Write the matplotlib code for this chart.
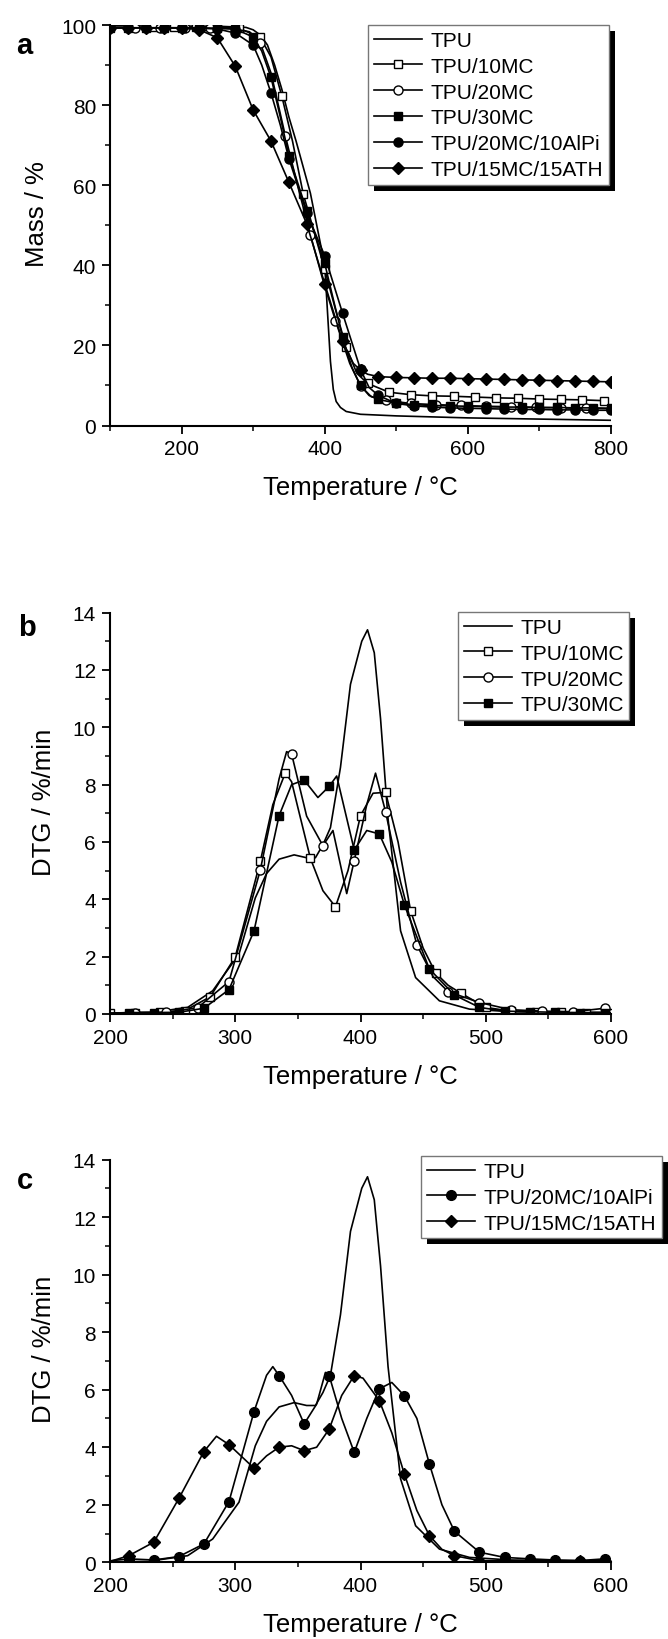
import numpy as np
import matplotlib
matplotlib.use('Agg')
import matplotlib.pyplot as plt
from matplotlib.ticker import MultipleLocator
from matplotlib.patches import Rectangle

plt.rcParams['font.family'] = ['Liberation Sans', 'DejaVu Sans']

# ---------------- panel a : TGA mass curves ----------------
# TPU (no markers)
tga_tpu_t = [100, 250, 290, 300, 310, 320, 330, 340, 350, 360, 370, 380, 390, 400, 404, 408,
             412, 416, 422, 430, 450, 500, 600, 700, 800]
tga_tpu_m = [99.8, 99.7, 99.4, 98.8, 97.5, 95.0, 90.0, 84.0, 77.0, 71.0, 64.5, 58.0, 49.0, 40.0,
             28.0, 16.0, 9.0, 6.0, 4.5, 3.5, 2.8, 2.4, 1.9, 1.6, 1.3]

# marker points
tga_10mc_t = [100, 130, 160, 190, 220, 250, 280, 310, 340, 370, 400, 430, 460, 490, 520, 550,
              580, 610, 640, 670, 700, 730, 760, 790]
tga_10mc_m = [99.4, 99.4, 99.4, 99.4, 99.4, 99.4, 99.2, 96.9, 82.3, 57.8, 39.0, 19.5, 10.5, 8.3,
              7.7, 7.4, 7.3, 7.1, 6.9, 6.8, 6.6, 6.5, 6.4, 6.2]
# extra points of the line between markers
tga_10mc_xt = [325, 355, 385, 415, 445]
tga_10mc_xm = [92.0, 71.0, 48.5, 29.0, 13.0]

tga_20mc_t = [100, 135, 170, 205, 240, 275, 310, 345, 380, 415, 450, 485, 520, 555, 590, 625,
              660, 695, 730, 765, 800]
tga_20mc_m = [99.3, 99.3, 99.3, 99.3, 99.3, 99.0, 95.5, 72.3, 47.6, 26.2, 9.9, 6.3, 5.5, 5.2,
              5.0, 4.8, 4.7, 4.5, 4.4, 4.3, 4.2]
tga_20mc_xt = [295, 325, 362, 398, 435, 465]
tga_20mc_xm = [98.3, 88.0, 60.0, 36.0, 15.5, 7.2]

tga_25_t = [100, 125, 150, 175, 200, 225, 250, 275, 300, 325, 350, 375, 400, 425, 450, 475,
            500, 525, 550, 575, 600, 625, 650, 675, 700, 725, 750, 775, 800]
tga_30mc_m = [99.3, 99.3, 99.3, 99.3, 99.3, 99.3, 99.2, 99.0, 97.0, 86.9, 67.3, 53.6, 40.5, 22.0,
              10.0, 6.5, 5.6, 5.2, 5.0, 4.9, 4.8, 4.7, 4.6, 4.6, 4.5, 4.5, 4.4, 4.4, 4.3]
tga_30mc_xt = [312, 338, 412, 438, 462]
tga_30mc_xm = [93.5, 77.0, 31.5, 14.5, 7.5]

tga_alpi_m = [99.3, 99.3, 99.3, 99.3, 99.3, 99.2, 99.0, 98.0, 95.0, 83.0, 66.6, 53.0, 42.4, 28.0,
              14.0, 7.5, 5.5, 4.9, 4.6, 4.4, 4.3, 4.2, 4.1, 4.0, 4.0, 3.9, 3.9, 3.8, 3.8]
tga_alpi_xt = [312, 338, 462]
tga_alpi_xm = [90.0, 75.0, 9.5]

tga_ath_m = [99.3, 99.3, 99.3, 99.3, 99.3, 98.8, 96.8, 89.7, 78.8, 71.0, 60.7, 50.3, 35.4, 21.0,
             13.8, 12.2, 12.0, 11.9, 11.8, 11.8, 11.7, 11.6, 11.5, 11.4, 11.3, 11.2, 11.1, 11.0, 10.9]
tga_ath_xt = [440, 460]
tga_ath_xm = [15.5, 12.8]

# ---------------- panels b, c : DTG curves ----------------
dtg_tpu_t = [200, 230, 262, 282, 290, 303, 316, 325, 335, 347, 357, 364, 370, 376, 384, 392,
             401, 405.6, 411, 416, 422, 432, 444, 463, 487, 520, 560, 600]
dtg_tpu_v = [0.02, 0.03, 0.23, 0.81, 1.3, 2.09, 4.05, 4.9, 5.4, 5.55, 5.45, 5.45, 5.9, 6.5, 8.6,
             11.5, 13.0, 13.4, 12.6, 10.3, 6.8, 2.9, 1.27, 0.46, 0.17, 0.08, 0.06, 0.05]

dtg_10mc_t = [200, 220, 240, 260, 280, 300, 320, 340, 360, 380, 400, 420, 440, 460, 480, 500,
              520, 540, 560, 580, 600]
dtg_10mc_v = [0.03, 0.05, 0.06, 0.12, 0.6, 1.99, 5.32, 8.41, 5.43, 3.74, 6.92, 7.73, 3.6, 1.43,
              0.73, 0.23, 0.1, 0.08, 0.06, 0.05, 0.05]
dtg_10mc_xt = [330, 345, 350, 370, 390, 410, 430, 450, 470]
dtg_10mc_xv = [7.3, 8.1, 7.2, 4.3, 5.0, 7.7, 6.0, 2.3, 1.0]

dtg_20mc_t = [220, 245, 270, 295, 320, 345, 370, 395, 420, 445, 470, 495, 520, 545, 570, 595]
dtg_20mc_v = [0.05, 0.06, 0.22, 1.13, 5.02, 9.07, 5.87, 5.35, 7.06, 2.41, 0.78, 0.4, 0.15, 0.1,
              0.08, 0.2]
dtg_20mc_xt = [200, 335, 341, 357, 378, 389, 405, 412, 432, 458, 600]
dtg_20mc_xv = [0.03, 8.2, 9.15, 6.9, 6.4, 4.2, 7.3, 8.4, 4.6, 1.3, 0.15]

dtg_30mc_t = [215, 235, 255, 275, 295, 315, 335, 355, 375, 395, 415, 435, 455, 475, 495, 515,
              535, 555, 575, 595]
dtg_30mc_v = [0.05, 0.05, 0.06, 0.2, 0.85, 2.9, 6.92, 8.16, 7.94, 5.72, 6.28, 3.81, 1.57, 0.66,
              0.23, 0.1, 0.08, 0.06, 0.05, 0.05]
dtg_30mc_xt = [200, 345, 366, 381, 405, 425, 600]
dtg_30mc_xv = [0.03, 8.0, 7.55, 8.3, 6.4, 5.3, 0.05]

dtg_c_t = [215, 235, 255, 275, 295, 315, 335, 355, 375, 395, 415, 435, 455, 475, 495, 515,
           535, 555, 575, 595]
dtg_alpi_v = [0.12, 0.08, 0.2, 0.64, 2.11, 5.24, 6.49, 4.81, 6.49, 3.82, 6.03, 5.79, 3.42, 1.08,
              0.35, 0.17, 0.12, 0.08, 0.06, 0.12]
dtg_alpi_xt = [200, 325, 330, 345, 365, 372, 385, 405, 425, 445, 465, 600]
dtg_alpi_xv = [0.05, 6.5, 6.8, 5.8, 5.5, 6.6, 5.0, 5.0, 6.25, 5.0, 2.0, 0.1]

dtg_ath_v = [0.23, 0.7, 2.22, 3.85, 4.09, 3.27, 4.0, 3.88, 4.63, 6.49, 5.62, 3.07, 0.93, 0.23,
             0.06, 0.05, 0.05, 0.05, 0.05, 0.05]
dtg_ath_xt = [200, 285, 325, 345, 365, 385, 402, 425, 445, 465, 600]
dtg_ath_xv = [0.03, 4.38, 3.7, 4.05, 4.0, 5.8, 6.4, 4.5, 1.8, 0.45, 0.05]

LW = 1.2
W, H = 668, 1640


def merged(t, v, xt=(), xv=()):
    # line goes through marker points plus the extra points, markers only on marker points
    tt = np.concatenate([np.asarray(t, float), np.asarray(xt, float)])
    vv = np.concatenate([np.asarray(v, float), np.asarray(xv, float)])
    order = np.argsort(tt, kind='stable')
    is_marker = np.concatenate([np.ones(len(t), bool), np.zeros(len(xt), bool)])[order]
    return tt[order], vv[order], list(is_marker)


def series(ax, t, v, xt, xv, marker, filled, label, ms=6.5):
    tt, vv, mask = merged(t, v, xt, xv)
    ax.plot(tt, vv, color='black', lw=LW, marker=marker, markevery=mask, ms=ms,
            mfc='black' if filled else 'white', mec='black', mew=1.0, label=label)


def style(ax, xlim, ylim, xmaj, xmin, ymaj, ymin):
    ax.set_xlim(*xlim)
    ax.set_ylim(*ylim)
    ax.spines['top'].set_visible(False)
    ax.spines['right'].set_visible(False)
    for s in ('left', 'bottom'):
        ax.spines[s].set_linewidth(1.5)
    ax.xaxis.set_major_locator(MultipleLocator(xmaj))
    ax.xaxis.set_minor_locator(MultipleLocator(xmin))
    ax.yaxis.set_major_locator(MultipleLocator(ymaj))
    ax.yaxis.set_minor_locator(MultipleLocator(ymin))
    ax.tick_params(which='major', direction='out', length=6, width=1.3, labelsize=15, pad=4)
    ax.tick_params(which='minor', direction='out', length=3.5, width=1.1)
    ax.patch.set_visible(False)


def add_legend(fig, ax, x_px, y_px):
    h, l = ax.get_legend_handles_labels()
    leg = fig.legend(h, l, loc='upper left', bbox_to_anchor=(x_px / W, 1 - y_px / H),
                     bbox_transform=fig.transFigure, fancybox=False, framealpha=1,
                     edgecolor='#777777', fontsize=15, handlelength=2.3, handletextpad=0.4,
                     borderpad=0.28, labelspacing=0.33, borderaxespad=0, numpoints=1)
    leg.get_frame().set_linewidth(1.0)
    leg.set_zorder(6)
    return leg


fig = plt.figure(figsize=(W / 100, H / 100), dpi=100)
fig.patch.set_facecolor('white')

ax_a = fig.add_axes([110 / W, 1 - 426.5 / H, 501 / W, 400.5 / H])
ax_b = fig.add_axes([110 / W, 1 - 1015 / H, 501 / W, 401.4 / H])
ax_c = fig.add_axes([110 / W, 1 - 1563.3 / H, 501 / W, 402.8 / H])

# panel a
ax_a.plot(tga_tpu_t, tga_tpu_m, color='black', lw=LW, label='TPU')
series(ax_a, tga_10mc_t, tga_10mc_m, tga_10mc_xt, tga_10mc_xm, 's', False, 'TPU/10MC', 6)
series(ax_a, tga_20mc_t, tga_20mc_m, tga_20mc_xt, tga_20mc_xm, 'o', False, 'TPU/20MC', 6.5)
series(ax_a, tga_25_t, tga_30mc_m, tga_30mc_xt, tga_30mc_xm, 's', True, 'TPU/30MC', 6)
series(ax_a, tga_25_t, tga_alpi_m, tga_alpi_xt, tga_alpi_xm, 'o', True, 'TPU/20MC/10AlPi', 6.5)
series(ax_a, tga_25_t, tga_ath_m, tga_ath_xt, tga_ath_xm, 'D', True, 'TPU/15MC/15ATH', 6.5)
style(ax_a, (100, 800), (0, 100), 200, 100, 20, 10)
ax_a.set_ylabel('Mass / %', fontsize=18.5)
ax_a.set_xlabel('Temperature / °C', fontsize=18.5, labelpad=12)
ax_a.yaxis.set_label_coords(-0.121, 0.53)

# panel b
ax_b.plot(dtg_tpu_t, dtg_tpu_v, color='black', lw=LW, label='TPU')
series(ax_b, dtg_10mc_t, dtg_10mc_v, dtg_10mc_xt, dtg_10mc_xv, 's', False, 'TPU/10MC', 6)
series(ax_b, dtg_20mc_t, dtg_20mc_v, dtg_20mc_xt, dtg_20mc_xv, 'o', False, 'TPU/20MC', 6.5)
series(ax_b, dtg_30mc_t, dtg_30mc_v, dtg_30mc_xt, dtg_30mc_xv, 's', True, 'TPU/30MC', 6)
style(ax_b, (200, 600), (0, 14), 100, 50, 2, 1)
ax_b.set_ylabel('DTG / %/min', fontsize=18.5)
ax_b.set_xlabel('Temperature / °C', fontsize=18.5, labelpad=12)
ax_b.yaxis.set_label_coords(-0.108, 0.53)

# panel c
ax_c.plot(dtg_tpu_t, dtg_tpu_v, color='black', lw=LW, label='TPU')
series(ax_c, dtg_c_t, dtg_alpi_v, dtg_alpi_xt, dtg_alpi_xv, 'o', True, 'TPU/20MC/10AlPi', 7)
series(ax_c, dtg_c_t, dtg_ath_v, dtg_ath_xt, dtg_ath_xv, 'D', True, 'TPU/15MC/15ATH', 6.5)
style(ax_c, (200, 600), (0, 14), 100, 50, 2, 1)
ax_c.set_ylabel('DTG / %/min', fontsize=18.5)
ax_c.set_xlabel('Temperature / °C', fontsize=18.5, labelpad=12)
ax_c.yaxis.set_label_coords(-0.108, 0.53)

legends = [add_legend(fig, ax_a, 368, 26),
           add_legend(fig, ax_b, 458, 613),
           add_legend(fig, ax_c, 421, 1157)]

# panel letters
for letter, x_px, y_px in [('a', 16, 54), ('b', 18, 636), ('c', 17, 1189)]:
    fig.text(x_px / W, 1 - y_px / H, letter, fontsize=21, fontweight='bold', va='baseline')

# black drop shadow behind each legend box
fig.canvas.draw()
for leg in legends:
    bb = leg.get_window_extent()
    fig.patches.append(Rectangle(((bb.x0 + 6) / W, (bb.y0 - 6) / H), bb.width / W, bb.height / H,
                                 transform=fig.transFigure, facecolor='black', edgecolor='none',
                                 zorder=5))

fig.savefig('out.png', dpi=100)
